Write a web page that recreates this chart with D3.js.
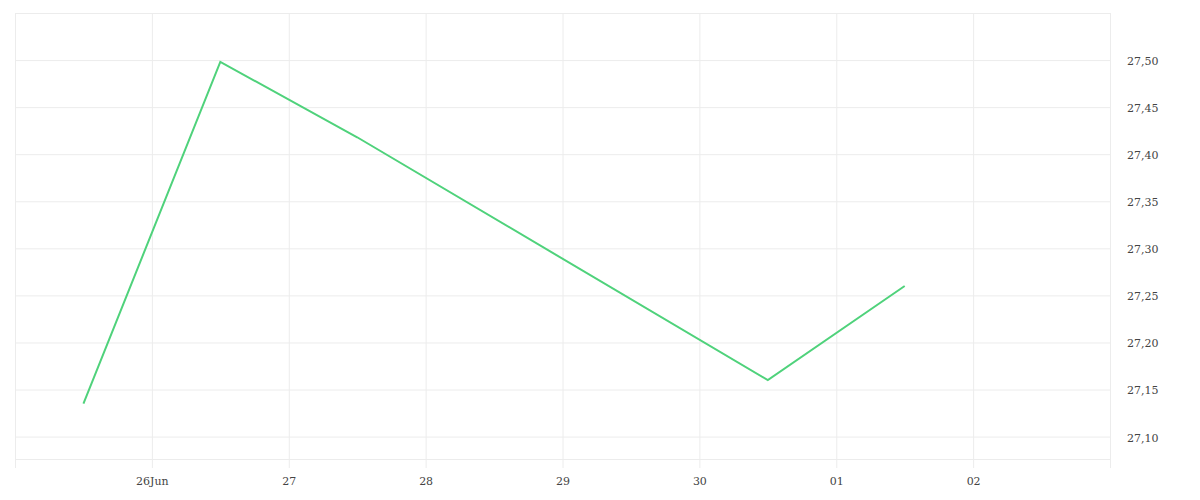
<!DOCTYPE html>
<html>
<head>
<meta charset="utf-8">
<script src="https://cdn.jsdelivr.net/npm/d3@7"></script>
<style>
  html, body { margin: 0; padding: 0; background: #fff; }
  svg text { font-family: "DejaVu Serif", serif; font-size: 11px; fill: #444; }
</style>
</head>
<body>
<div id="chart"></div>
<script>
// data (one point per trading day, at midday)
const dates = ["2020-06-25T12:00", "2020-06-26T12:00", "2020-06-27T12:00", "2020-06-30T12:00", "2020-07-01T12:00"];
const prices = [27.135, 27.498, 27.418, 27.160, 27.260];

const xTickDays = ["2020-06-26", "2020-06-27", "2020-06-28", "2020-06-29", "2020-06-30", "2020-07-01", "2020-07-02"];
const yTickValues = [27.10, 27.15, 27.20, 27.25, 27.30, 27.35, 27.40, 27.45, 27.50];

const parse = d3.timeParse("%Y-%m-%dT%H:%M");
const parseDay = d3.timeParse("%Y-%m-%d");
const data = dates.map((d, i) => ({ date: parse(d), value: prices[i] }));

const w = 1200, h = 500;
const margin = { top: 13, right: 90, bottom: 41, left: 15 };
const plotBottom = h - margin.bottom;   // bottom border of the plot
const tickBottom = 468;                 // vertical grid runs a bit past it

const svg = d3.select("#chart").append("svg")
    .attr("width", w)
    .attr("height", h);

const x = d3.scaleTime()
    .domain([parseDay("2020-06-25"), parseDay("2020-07-03")])
    .range([margin.left, w - margin.right]);

const y = d3.scaleLinear()
    .domain([27.0762, 27.55])
    .range([plotBottom, margin.top]);

const locale = d3.formatLocale({ decimal: ",", thousands: ".", grouping: [3], currency: ["", ""] });
const fmt = locale.format(".2f");
const monthFmt = d3.timeFormat("%b");
const dayFmt = d3.timeFormat("%d");

const gridColor = "#ececec";

// y axis + horizontal grid
const yAxis = svg.append("g")
    .attr("transform", `translate(${w - margin.right},0)`)
    .call(d3.axisRight(y)
        .tickValues(yTickValues)
        .tickSize(-(w - margin.right - margin.left))
        .tickPadding(17)
        .tickFormat(fmt));
yAxis.select(".domain").remove();
yAxis.selectAll("line").attr("stroke", gridColor);
yAxis.selectAll("text").attr("dy", "0.4em");

// x axis + vertical grid
const xAxis = svg.append("g")
    .attr("transform", `translate(0,${tickBottom})`)
    .call(d3.axisBottom(x)
        .tickValues(xTickDays.map(parseDay))
        .tickSize(-(tickBottom - margin.top))
        .tickPadding(9)
        .tickFormat((d, i) => i === 0 ? dayFmt(d) + monthFmt(d) : dayFmt(d)));
xAxis.select(".domain").remove();
xAxis.selectAll("line").attr("stroke", gridColor);

// plot frame
const frame = svg.append("g").attr("stroke", gridColor).attr("shape-rendering", "crispEdges");
frame.append("line")
    .attr("x1", x.range()[0]).attr("x2", x.range()[1])
    .attr("y1", margin.top).attr("y2", margin.top);
frame.append("line")
    .attr("x1", x.range()[0]).attr("x2", x.range()[1])
    .attr("y1", plotBottom).attr("y2", plotBottom);
frame.append("line")
    .attr("x1", x.range()[0]).attr("x2", x.range()[0])
    .attr("y1", margin.top).attr("y2", tickBottom);
frame.append("line")
    .attr("x1", x.range()[1]).attr("x2", x.range()[1])
    .attr("y1", margin.top).attr("y2", tickBottom);

// price line
const line = d3.line()
    .x(d => x(d.date))
    .y(d => y(d.value));

svg.append("path")
    .datum(data)
    .attr("fill", "none")
    .attr("stroke", "#4fd27b")
    .attr("stroke-width", 2)
    .attr("stroke-linejoin", "miter")
    .attr("d", line);
</script>
</body>
</html>
